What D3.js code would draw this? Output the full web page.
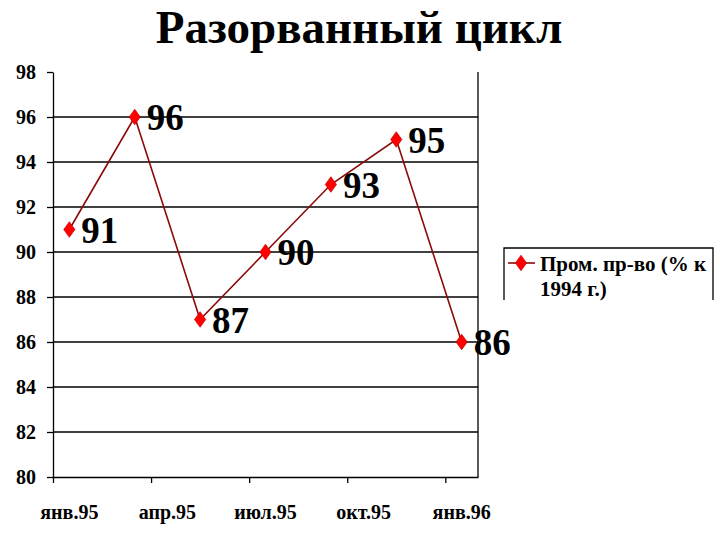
<!DOCTYPE html>
<html>
<head>
<meta charset="utf-8">
<script src="https://cdn.jsdelivr.net/npm/d3@7"></script>
<style>
  body { margin: 0; background: #fff; }
</style>
</head>
<body>
<div id="chart"></div>
<script>
// данные
const title = "Разорванный цикл";
const seriesName = ["Пром. пр-во (% к", "1994 г.)"];
const pointMonths = [0, 2, 4, 6, 8, 10, 12];   // месяцы от янв.95
const values = [91, 96, 87, 90, 93, 95, 86];
const tickMonths = [0, 3, 6, 9, 12];
const tickLabels = ["янв.95", "апр.95", "июл.95", "окт.95", "янв.96"];
const yTicks = [80, 82, 84, 86, 88, 90, 92, 94, 96, 98];

const width = 720, height = 540;
const plotLeft = 53, plotRight = 478, plotTop = 72, plotBottom = 477;
const serif = "Liberation Serif";

const svg = d3.select("#chart").append("svg")
    .attr("width", width)
    .attr("height", height);

const x = d3.scaleLinear().domain([-0.5, 12.5]).range([plotLeft, plotRight]);
const y = d3.scaleLinear().domain([80, 98]).range([plotBottom, plotTop]);

// заголовок
svg.append("text")
    .attr("x", 359)
    .attr("y", 43)
    .attr("text-anchor", "middle")
    .attr("font-family", serif)
    .attr("font-weight", "bold")
    .attr("font-size", 47)
    .text(title);

// сетка
svg.append("g")
    .selectAll("line")
    .data(yTicks.filter(d => d > 80 && d < 98))
    .enter()
    .append("line")
    .attr("x1", plotLeft).attr("x2", plotRight)
    .attr("y1", d => y(d)).attr("y2", d => y(d))
    .attr("stroke", "#000").attr("stroke-width", 1.3);

// правая граница области
svg.append("line")
    .attr("x1", plotRight).attr("x2", plotRight)
    .attr("y1", plotTop).attr("y2", plotBottom)
    .attr("stroke", "#000").attr("stroke-width", 1.3);

// ось Y
const yAxis = svg.append("g")
    .attr("transform", `translate(${plotLeft},0)`)
    .call(d3.axisLeft(y).tickValues(yTicks).tickSize(6).tickPadding(11).tickSizeOuter(0));
yAxis.attr("font-family", serif).attr("font-weight", "bold").attr("font-size", 20);
yAxis.select(".domain").attr("stroke-width", 1.3);
yAxis.selectAll(".tick line").attr("stroke-width", 1.3);
yAxis.selectAll("text").attr("dy", "0.34em");

// ось X
const xAxis = svg.append("g")
    .attr("transform", `translate(0,${plotBottom})`)
    .call(d3.axisBottom(x).tickValues(tickMonths.map(m => m - 0.5)).tickSize(6).tickSizeOuter(0).tickFormat(""));
xAxis.select(".domain").attr("stroke-width", 1.3);
xAxis.selectAll(".tick line").attr("stroke-width", 1.3);

svg.append("g")
    .attr("font-family", serif)
    .attr("font-weight", "bold")
    .attr("font-size", 20)
    .selectAll("text")
    .data(tickMonths)
    .enter()
    .append("text")
    .attr("x", d => x(d))
    .attr("y", 519)
    .attr("text-anchor", "middle")
    .text((d, i) => tickLabels[i]);

// линия
const points = pointMonths.map((m, i) => ({ m: m, v: values[i] }));

svg.append("path")
    .datum(points)
    .attr("fill", "none")
    .attr("stroke", "#8b0a0a")
    .attr("stroke-width", 1.6)
    .attr("d", d3.line().x(d => x(d.m)).y(d => y(d.v)));

const diamond = d3.symbol().type(d3.symbolDiamond).size(70);

svg.append("g")
    .selectAll("path")
    .data(points)
    .enter()
    .append("path")
    .attr("d", diamond)
    .attr("transform", d => `translate(${x(d.m)},${y(d.v)}) scale(1.25,1)`)
    .attr("fill", "#ff0000")
    .attr("stroke", "#c00000")
    .attr("stroke-width", 0.6);

// подписи значений
svg.append("g")
    .attr("font-family", serif)
    .attr("font-weight", "bold")
    .attr("font-size", 37)
    .selectAll("text")
    .data(points)
    .enter()
    .append("text")
    .attr("x", d => x(d.m) + 12)
    .attr("y", d => y(d.v) + 13)
    .text(d => d.v);

// легенда
const lg = svg.append("g");
lg.append("path")
    .attr("d", "M504,300 V248 H713 V300")
    .attr("fill", "none")
    .attr("stroke", "#000")
    .attr("stroke-width", 1.3);
lg.append("line")
    .attr("x1", 508).attr("x2", 535)
    .attr("y1", 263).attr("y2", 263)
    .attr("stroke", "#8b0a0a").attr("stroke-width", 1.6);
lg.append("path")
    .attr("d", diamond)
    .attr("transform", "translate(521,263) scale(1.25,1)")
    .attr("fill", "#ff0000")
    .attr("stroke", "#c00000")
    .attr("stroke-width", 0.6);
lg.selectAll(".lt")
    .data(seriesName)
    .enter()
    .append("text")
    .attr("class", "lt")
    .attr("x", 540)
    .attr("y", (d, i) => 271 + i * 25)
    .attr("font-family", serif)
    .attr("font-weight", "bold")
    .attr("font-size", 21)
    .text(d => d);
</script>
</body>
</html>
